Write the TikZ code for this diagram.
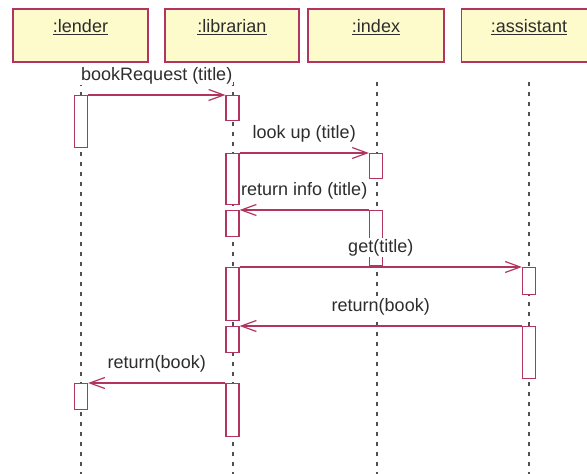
\documentclass[tikz,border=0pt]{standalone}
\usepackage{fontspec}
\setmainfont{Liberation Sans}
\usetikzlibrary{arrows.meta}
\definecolor{umlred}{RGB}{178,52,96}
\definecolor{lifegray}{RGB}{80,80,80}
\definecolor{txtgray}{RGB}{45,45,45}
\definecolor{hdrfill}{RGB}{253,250,204}
\begin{document}
\begin{tikzpicture}[x=1pt,y=-1pt,
  font=\fontsize{18}{20}\selectfont,
  header/.style={draw=umlred, fill=hdrfill, line width=1.3pt, minimum width=135pt,
    minimum height=53pt, inner xsep=0pt, inner ysep=0pt, text height=23.5pt,
    text depth=29.5pt, text=txtgray},
  act/.style={draw=umlred, fill=white, line width=1.2pt, minimum width=13pt,
    inner sep=0pt, anchor=north},
  life/.style={draw=lifegray, line width=1.5pt, dash pattern=on 4pt off 6pt},
  msg/.style={draw=umlred, line width=1.2pt, -{Straight Barb[length=15pt,width=11pt]}},
  lbl/.style={fill=white, inner sep=1pt, text height=13pt, text depth=4pt,
    yshift=19.5pt, text=txtgray}]
\useasboundingbox (0,0) rectangle (587,474);
\clip (0,0) rectangle (587,474);
% headers
\node[header] (lender) at (80.5,35.5) {\underline{:lender}};
\node[header, minimum width=134pt] (librarian) at (232,35.5) {\underline{:librarian}};
\node[header, minimum width=136pt] (index) at (376,35.5) {\underline{:index}};
\node[header] (assistant) at (529,35.5) {\underline{:assistant}};
% lifelines
\coordinate (lenT) at (81,82);  \coordinate (lenB) at (81,474);
\coordinate (libT) at (233,82); \coordinate (libB) at (233,474);
\coordinate (idxT) at (377,82); \coordinate (idxB) at (377,474);
\coordinate (asT) at (529,82);  \coordinate (asB) at (529,474);
\draw[life] (lenT) -- (lenB);
\draw[life] (libT) -- (libB);
\draw[life] (idxT) -- (idxB);
\draw[life] (asT) -- (asB);
% activations
\node[act, minimum height=52pt] (lenA1) at (81,95) {};
\node[act, minimum height=26pt] (lenA2) at (81,383) {};
\node[act, minimum height=25pt] (libA1) at (232.5,95) {};
\node[act, minimum height=51pt] (libA2) at (232.5,153) {};
\node[act, minimum height=26pt] (libA3) at (232.5,210) {};
\node[act, minimum height=53pt] (libA4) at (232.5,267) {};
\node[act, minimum height=26pt] (libA5) at (232.5,326) {};
\node[act, minimum height=53pt] (libA6) at (232.5,383) {};
\node[act, minimum height=25pt] (idxA1) at (376,153) {};
\node[act, minimum height=55pt] (idxA2) at (376,210) {};
\node[act, minimum height=27pt] (asA1) at (529,267) {};
\node[act, minimum height=52pt] (asA2) at (529,326) {};
% messages
\draw[msg] (lenA1.north east) -- node[lbl]{bookRequest (title)} (libA1.north west);
\draw[msg] (libA2.north east) -- node[lbl]{look up (title)} (idxA1.north west);
\draw[msg] (idxA2.north west) -- node[lbl]{return info (title)} (libA3.north east);
\draw[msg] (libA4.north east) -- node[lbl]{get(title)} (asA1.north west);
\draw[msg] (asA2.north west) -- node[lbl]{return(book)} (libA5.north east);
\draw[msg] (libA6.north west) -- node[lbl]{return(book)} (lenA2.north east);
\end{tikzpicture}
\end{document}
